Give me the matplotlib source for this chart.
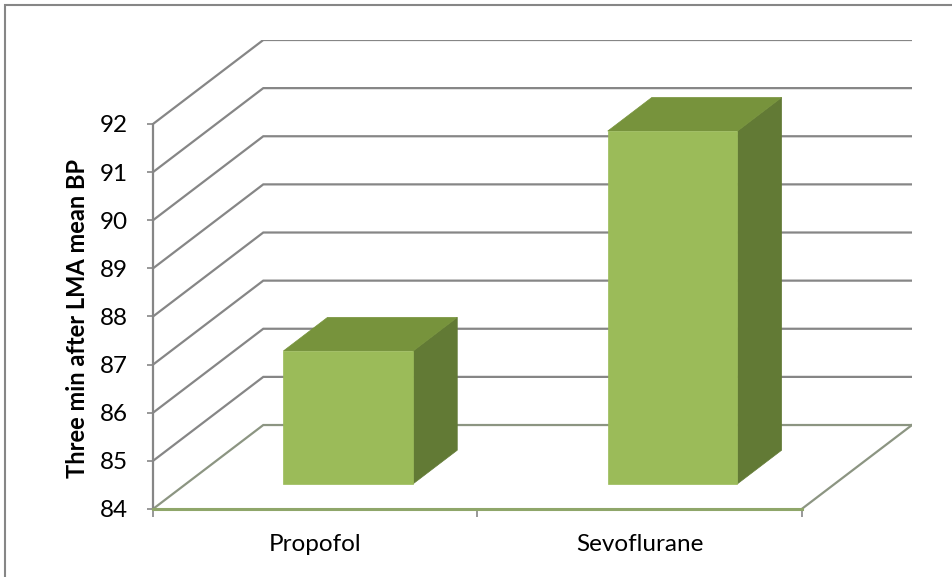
import matplotlib
matplotlib.use("Agg")
import matplotlib.pyplot as plt
from matplotlib.patches import Polygon, Rectangle

# chart data
categories = ["Propofol", "Sevoflurane"]
values = [86.76, 91.33]
y_ticks = [84, 85, 86, 87, 88, 89, 90, 91, 92]
y_label = "Three min after LMA mean BP"

# oblique 3-D look: shift per unit of depth (category units, value units)
DX = 0.340
DY = 1.745
BASE = 84
TOP = 92
BAR_W = 0.4          # bar width and depth, as fraction of a category slot
D0, D1 = 0.3, 0.7    # bar depth span

FRONT = "#9BBB59"
ROOF = "#77933C"
SIDE = "#627A35"
GRID = "#868686"
FLOOR = "#8C9582"

plt.rcParams["font.family"] = ["Lato", "DejaVu Sans"]

W, H = 953, 577
fig = plt.figure(figsize=(W / 100, H / 100), dpi=100)
ax = fig.add_axes([153 / W, (H - 509) / H, (912 - 153) / W, (509 - 40) / H])
n = len(categories)
ax.set_xlim(0, n + DX)
ax.set_ylim(BASE, TOP + DY)

# side wall + back wall gridlines
for v in y_ticks:
    col = FLOOR if v == BASE else GRID
    ax.plot([0, DX, n + DX], [v, v + DY, v + DY], color=col, lw=1.6,
            solid_joinstyle="miter", zorder=1)

# floor outline (right edge)
ax.plot([n, n + DX], [BASE, BASE + DY], color=FLOOR, lw=1.6, zorder=1)


def pt(x, v, d):
    return (x + d * DX, v + d * DY)


for i, v in enumerate(values):
    x0 = i + (1 - BAR_W) / 2
    x1 = x0 + BAR_W
    front = [pt(x0, BASE, D0), pt(x1, BASE, D0), pt(x1, v, D0), pt(x0, v, D0)]
    roof = [pt(x0, v, D0), pt(x1, v, D0), pt(x1, v, D1), pt(x0, v, D1)]
    side = [pt(x1, BASE, D0), pt(x1, BASE, D1), pt(x1, v, D1), pt(x1, v, D0)]
    for poly, c in ((side, SIDE), (roof, ROOF), (front, FRONT)):
        ax.add_patch(Polygon(poly, closed=True, facecolor=c, edgecolor=c,
                             lw=0.5, zorder=3))

for s in ("top", "right"):
    ax.spines[s].set_visible(False)
ax.spines["left"].set_bounds(BASE, TOP)
ax.spines["left"].set_color(GRID)
ax.spines["left"].set_linewidth(1.6)
ax.spines["bottom"].set_bounds(0, n)
ax.spines["bottom"].set_color("#8FA66A")
ax.spines["bottom"].set_linewidth(2.2)
ax.spines["left"].set_zorder(2)
ax.spines["bottom"].set_zorder(2)

ax.set_yticks(y_ticks)
ax.set_yticklabels([str(t) for t in y_ticks])
ax.tick_params(axis="y", direction="out", length=4.5, width=1.2, color=GRID,
               pad=13.5, labelsize=17.5, labelcolor="black")

ax.set_xticks(range(n + 1))
ax.set_xticklabels([""] * (n + 1))
ax.set_xticks([i + 0.5 for i in range(n)], minor=True)
ax.set_xticklabels(categories, minor=True)
ax.tick_params(axis="x", which="major", direction="out", length=6, width=1.2,
               color=GRID)
ax.tick_params(axis="x", which="minor", length=0, pad=18, labelsize=17.5,
               labelcolor="black")

ax.set_ylabel(y_label, fontsize=17, fontweight="bold")
ax.yaxis.set_label_coords(-64 / (912 - 153), (509 - 318) / (509 - 40))

# chart area border
fig.patches.append(Rectangle((5 / W, -0.1), 1.2, 1.1 - 5 / H,
                             transform=fig.transFigure, fill=False,
                             edgecolor=GRID, lw=1.5))

fig.savefig("out.png", dpi=100)
